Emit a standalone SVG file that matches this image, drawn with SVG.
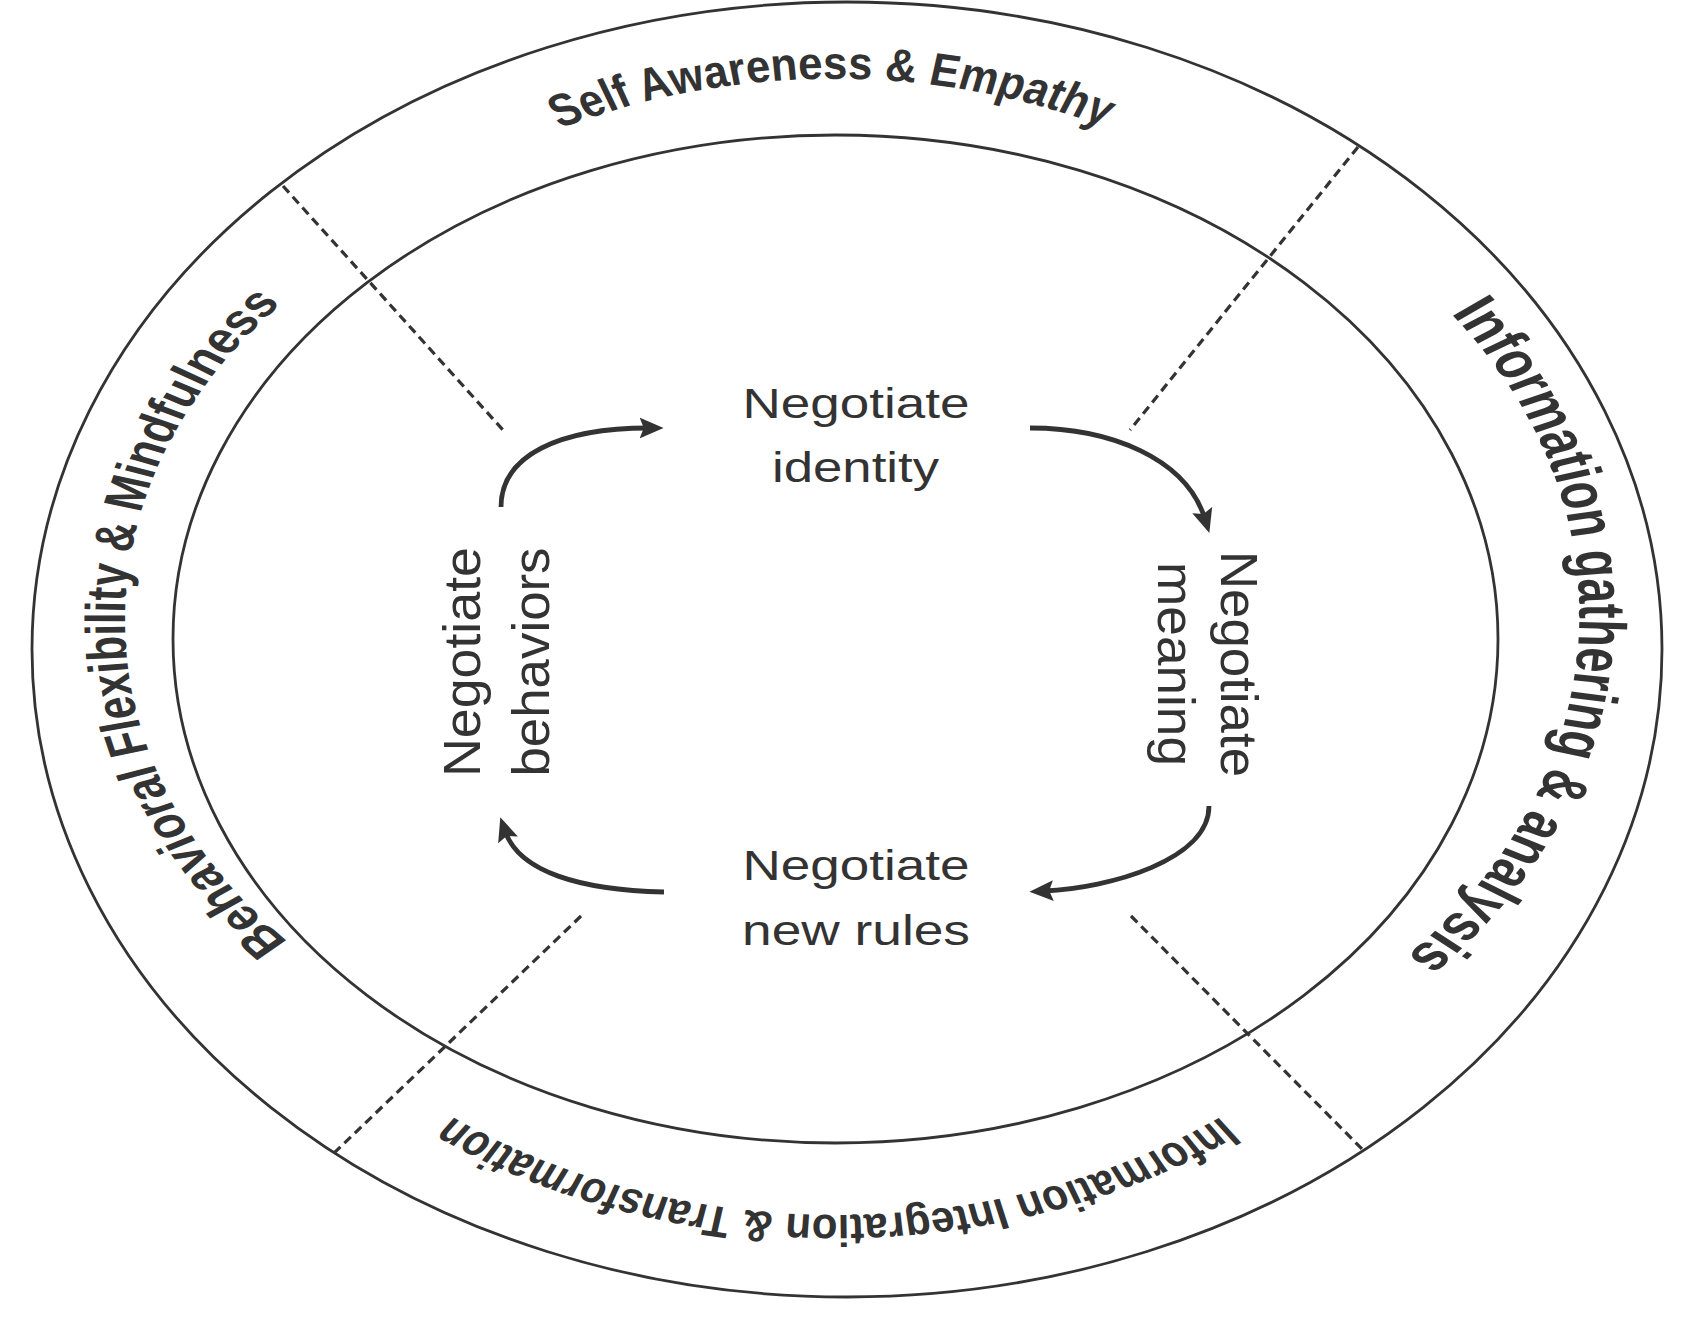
<svg xmlns="http://www.w3.org/2000/svg" width="1687" height="1318" viewBox="0 0 1687 1318">
<defs>
<style>
.ring{fill:none;stroke:#333;stroke-width:2.8}
.dash{fill:none;stroke:#333;stroke-width:3.2;stroke-dasharray:9 5.5}
.arc{fill:none;stroke:#333;stroke-width:4.8;marker-end:url(#head)}
.band{font-family:"Liberation Sans",Arial,sans-serif;font-weight:bold;fill:#333}
.lbl{font-family:"Liberation Sans",Arial,sans-serif;fill:#333;text-anchor:middle}
</style>
<marker id="head" markerUnits="userSpaceOnUse" viewBox="0 0 24 22" markerWidth="25" markerHeight="23" refX="9" refY="11" orient="auto">
<path d="M0,1 L23,11 L0,21 L4,11 Z" fill="#333"/>
</marker>
<path id="pTop" d="M -14.12 406.7 A 488 488 0 1 1 -18.38 -569.3 A 488 488 0 1 1 -14.12 406.7"/>
<path id="pRight" d="M -429.2 -60.7 A 499 499 0 1 1 567.4 -6.7 A 499 499 0 1 1 -429.2 -60.7"/>
<path id="pBottom" d="M -14.5 -456.4 A 511.7 511.7 0 1 1 -14.5 567 A 511.7 511.7 0 1 1 -14.5 -456.4"/>
<path id="pLeft" d="M 362.6 -32.1 A 467.6 467.6 0 1 1 -572.6 -23.9 A 467.6 467.6 0 1 1 362.6 -32.1"/>
</defs>
<rect width="1687" height="1318" fill="#fff"/>

<g id="rings">
<ellipse class="ring" cx="847" cy="649.5" rx="815" ry="647.5"/>
<ellipse class="ring" cx="835.5" cy="639" rx="662.5" ry="504"/>
</g>

<g id="dividers">
<line class="dash" x1="283" y1="186" x2="503" y2="430"/>
<line class="dash" x1="1358" y1="147" x2="1130" y2="430"/>
<line class="dash" x1="581" y1="916" x2="332" y2="1155"/>
<line class="dash" x1="1131" y1="916" x2="1363" y2="1150"/>
</g>

<g id="band-labels" transform="translate(855 648) scale(1.275 1)">
<g id="label-self-awareness"><text class="band" font-size="46"><textPath href="#pTop" startOffset="50%" text-anchor="middle" textLength="441" lengthAdjust="spacingAndGlyphs">Self Awareness &amp; Empathy</textPath></text></g>
<g id="label-information-gathering"><text class="band" font-size="52"><textPath href="#pRight" startOffset="50%" text-anchor="middle" textLength="700" lengthAdjust="spacingAndGlyphs">Information gathering &amp; analysis</textPath></text></g>
<g id="label-information-integration"><text class="band" font-size="44"><textPath href="#pBottom" startOffset="50%" text-anchor="middle" textLength="645" lengthAdjust="spacingAndGlyphs">Information Integration &amp; Transformation</textPath></text></g>
<g id="label-behavioral-flexibility"><text class="band" font-size="44"><textPath href="#pLeft" startOffset="50%" text-anchor="middle" textLength="702" lengthAdjust="spacingAndGlyphs">Behavioral Flexibility &amp; Mindfulness</textPath></text></g>
</g>

<g id="connectors">
<path class="arc" d="M501,507 C501,455 560,428 649,428"/>
<path class="arc" d="M1030,428 C1110,428 1186,458 1205,519"/>
<path class="arc" d="M1209,806 C1209,860 1110,888 1044,891"/>
<path class="arc" d="M664,892 C580,890 519,872 505,831"/>
</g>

<g id="node-identity">
<text class="lbl" font-size="42" x="856" y="418" textLength="227" lengthAdjust="spacingAndGlyphs">Negotiate</text>
<text class="lbl" font-size="42" x="855.5" y="482" textLength="167" lengthAdjust="spacingAndGlyphs">identity</text>
</g>
<g id="node-meaning">
<text class="lbl" font-size="52" transform="translate(1221 664) rotate(90)" textLength="226" lengthAdjust="spacingAndGlyphs">Negotiate</text>
<text class="lbl" font-size="52" transform="translate(1158 664) rotate(90)" textLength="204" lengthAdjust="spacingAndGlyphs">meaning</text>
</g>
<g id="node-rules">
<text class="lbl" font-size="42" x="856" y="880" textLength="227" lengthAdjust="spacingAndGlyphs">Negotiate</text>
<text class="lbl" font-size="42" x="856" y="945" textLength="228" lengthAdjust="spacingAndGlyphs">new rules</text>
</g>
<g id="node-behaviors">
<text class="lbl" font-size="52" transform="translate(480 662) rotate(-90)" textLength="230" lengthAdjust="spacingAndGlyphs">Negotiate</text>
<text class="lbl" font-size="52" transform="translate(549 662) rotate(-90)" textLength="229" lengthAdjust="spacingAndGlyphs">behaviors</text>
</g>
</svg>
